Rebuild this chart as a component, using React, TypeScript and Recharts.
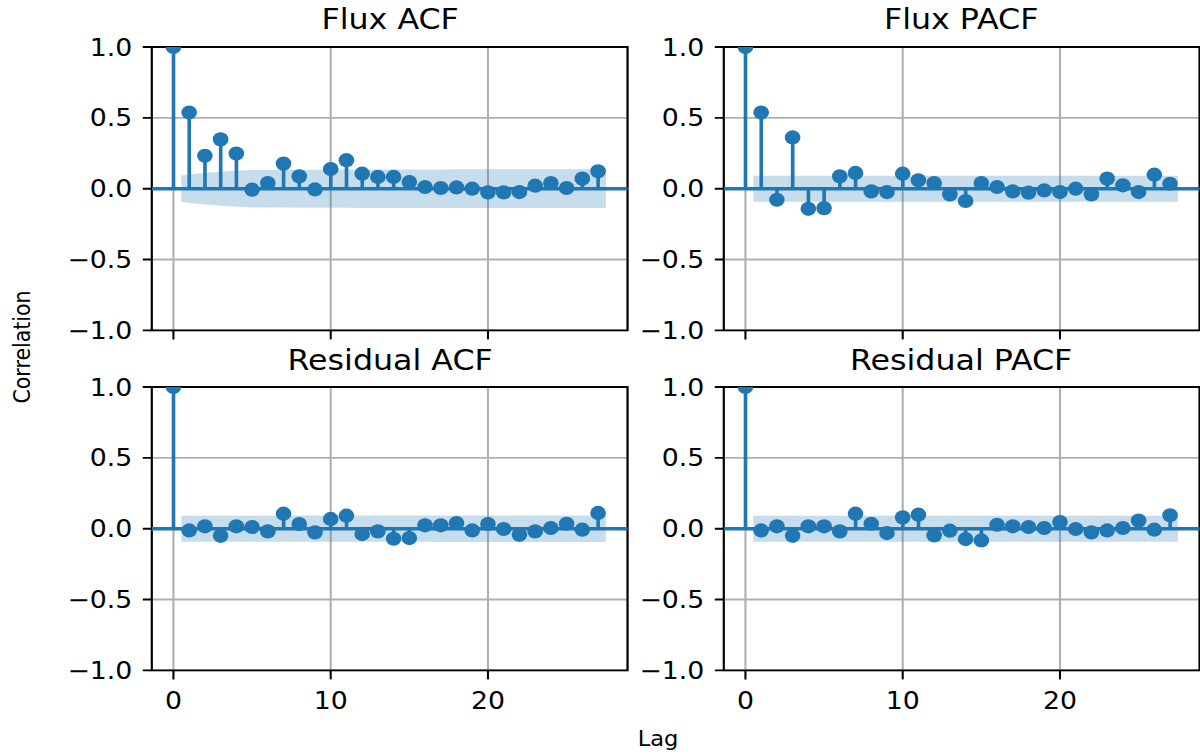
import { ComposedChart, XAxis, YAxis, CartesianGrid, Area, Bar, Scatter, ReferenceLine, ReferenceArea } from "recharts";

// lags drawn as stems
const LAGS = [0, 1, 2, 3, 4, 5, 6, 7, 8, 9, 10, 11, 12, 13, 14, 15, 16, 17, 18, 19, 20, 21, 22, 23, 24, 25, 26, 27];
// lags of the confidence band (first/last shifted by half a lag, like statsmodels)
const BAND_LAGS = [0.5, 2, 3, 4, 5, 6, 7, 8, 9, 10, 11, 12, 13, 14, 15, 16, 17, 18, 19, 20, 21, 22, 23, 24, 25, 26, 27.5];

const FLUX_ACF = [1.0, 0.537, 0.232, 0.348, 0.248, -0.007, 0.04, 0.177, 0.087, -0.005, 0.139, 0.201, 0.106, 0.083, 0.083, 0.047, 0.012, 0.005, 0.009, 0.0, -0.026, -0.026, -0.024, 0.021, 0.04, 0.005, 0.071, 0.123];
const FLUX_ACF_BAND = [0.094, 0.112, 0.12, 0.128, 0.132, 0.132, 0.133, 0.134, 0.134, 0.135, 0.135, 0.136, 0.136, 0.136, 0.136, 0.136, 0.136, 0.137, 0.137, 0.137, 0.137, 0.137, 0.137, 0.137, 0.137, 0.137, 0.137];

const FLUX_PACF = [1.0, 0.537, -0.078, 0.362, -0.142, -0.137, 0.087, 0.111, -0.019, -0.024, 0.106, 0.059, 0.04, -0.04, -0.087, 0.04, 0.012, -0.019, -0.028, -0.012, -0.024, 0.0, -0.04, 0.071, 0.024, -0.024, 0.099, 0.035];
const FLUX_PACF_BAND = [0.092, 0.092, 0.092, 0.092, 0.092, 0.092, 0.092, 0.092, 0.092, 0.092, 0.092, 0.092, 0.092, 0.092, 0.092, 0.092, 0.092, 0.092, 0.092, 0.092, 0.092, 0.092, 0.092, 0.092, 0.092, 0.092, 0.092];

const RESID_ACF = [1.0, -0.012, 0.017, -0.05, 0.017, 0.012, -0.019, 0.106, 0.033, -0.026, 0.069, 0.092, -0.038, -0.019, -0.071, -0.066, 0.024, 0.024, 0.04, -0.012, 0.033, -0.002, -0.043, -0.019, 0.005, 0.035, -0.007, 0.111];
const RESID_ACF_BAND = [0.092, 0.092, 0.092, 0.092, 0.092, 0.092, 0.093, 0.093, 0.093, 0.093, 0.093, 0.093, 0.093, 0.093, 0.093, 0.093, 0.094, 0.094, 0.094, 0.094, 0.094, 0.094, 0.094, 0.094, 0.094, 0.094, 0.094];

const RESID_PACF = [1.0, -0.012, 0.017, -0.05, 0.017, 0.017, -0.019, 0.106, 0.035, -0.031, 0.08, 0.099, -0.047, -0.014, -0.073, -0.083, 0.028, 0.017, 0.012, 0.005, 0.047, -0.002, -0.026, -0.012, 0.005, 0.057, -0.007, 0.095];
const RESID_PACF_BAND = [0.092, 0.092, 0.092, 0.092, 0.092, 0.092, 0.092, 0.092, 0.092, 0.092, 0.092, 0.092, 0.092, 0.092, 0.092, 0.092, 0.092, 0.092, 0.092, 0.092, 0.092, 0.092, 0.092, 0.092, 0.092, 0.092, 0.092];

const X_TICKS = [0, 10, 20];
const Y_TICKS = [-1, -0.5, 0, 0.5, 1];

const BLUE = "#1f77b4";
const FONT = "DejaVu Sans";
const SX = 1.1; // the reference is stretched a bit horizontally
const X_DOMAIN: [number, number] = [-1.375, 28.875];

const Y_W = 80;
const M_TOP = 47;
const X_H = 60;
const PLOT_W = 432.5;
const PLOT_H = 283.4;

type Row = { lag: number; v?: number; band?: [number, number] };

function buildRows(values: number[], band: number[]): Row[] {
  const map = new Map<number, Row>();
  LAGS.forEach((lag, i) => map.set(lag, { lag, v: values[i] }));
  BAND_LAGS.forEach((lag, i) => {
    const r = map.get(lag) ?? { lag };
    r.band = [-band[i], band[i]];
    map.set(lag, r);
  });
  return [...map.values()].sort((a, b) => a.lag - b.lag);
}

const fmtY = (v: number) => (v < 0 ? "\u2212" : "") + Math.abs(v).toFixed(1);

const Dot = (p: any) => <circle cx={p.cx} cy={p.cy} r={7.1} fill={BLUE} />;

function Panel({ left, top, values, band, showX }: { left: number; top: number; values: number[]; band: number[]; showX: boolean }) {
  const rows = buildRows(values, band);
  const points = rows.filter((r) => r.v !== undefined);
  const tickStyle = { fill: "#000", fontSize: 24.3, fontFamily: FONT };
  return (
    <div style={{ position: "absolute", left: left - Y_W, top: top - M_TOP }}>
      <ComposedChart width={Y_W + PLOT_W + 6} height={M_TOP + PLOT_H + X_H} data={rows} margin={{ top: M_TOP, right: 6, bottom: 0, left: 0 }}>
        <CartesianGrid stroke="#b0b0b0" strokeWidth={1.9} />
        <XAxis
          dataKey="lag"
          type="number"
          domain={X_DOMAIN}
          ticks={X_TICKS}
          allowDataOverflow
          height={X_H}
          axisLine={false}
          tickLine={{ stroke: "#000", strokeWidth: 1.9 }}
          tickSize={9}
          tickMargin={12}
          tick={tickStyle}
          tickFormatter={showX ? (v: number) => String(v) : () => ""}
        />
        <YAxis
          type="number"
          domain={[-1, 1]}
          ticks={Y_TICKS}
          allowDataOverflow
          width={Y_W}
          axisLine={false}
          tickLine={{ stroke: "#000", strokeWidth: 1.9 }}
          tickSize={8.2}
          tickMargin={9.5}
          tick={tickStyle}
          tickFormatter={fmtY}
        />
        <Area dataKey="band" type="linear" stroke="none" fill={BLUE} fillOpacity={0.25} connectNulls isAnimationActive={false} />
        <ReferenceLine y={0} stroke={BLUE} strokeWidth={3.4} />
        <Bar dataKey="v" fill={BLUE} barSize={3.3} isAnimationActive={false} />
        <Scatter data={points} dataKey="v" shape={Dot} isAnimationActive={false} />
        <ReferenceArea x1={X_DOMAIN[0]} x2={X_DOMAIN[1]} y1={-1} y2={1} fill="none" stroke="#000" strokeWidth={1.9} />
      </ComposedChart>
    </div>
  );
}

export default function App() {
  const L1 = 152.3 / SX;
  const L2 = 723.3 / SX;
  const T1 = 47;
  const T2 = 387.3;
  const c1 = L1 + PLOT_W / 2;
  const c2 = L2 + PLOT_W / 2;
  return (
    <div style={{ position: "absolute", left: 0, top: 0, width: 1200 / SX, height: 754, background: "#fff", transform: `scaleX(${SX})`, transformOrigin: "0 0" }}>
      <Panel left={L1} top={T1} values={FLUX_ACF} band={FLUX_ACF_BAND} showX={false} />
      <Panel left={L2} top={T1} values={FLUX_PACF} band={FLUX_PACF_BAND} showX={false} />
      <Panel left={L1} top={T2} values={RESID_ACF} band={RESID_ACF_BAND} showX />
      <Panel left={L2} top={T2} values={RESID_PACF} band={RESID_PACF_BAND} showX />
      <svg width={1200 / SX} height={754} style={{ position: "absolute", left: 0, top: 0, pointerEvents: "none" }}>
        <g fontFamily={FONT} fill="#000" textAnchor="middle">
          <text x={c1} y={29.3} fontSize={28.8}>Flux ACF</text>
          <text x={c2} y={29.3} fontSize={28.8}>Flux PACF</text>
          <text x={c1} y={369.6} fontSize={28.8}>Residual ACF</text>
          <text x={c2} y={369.6} fontSize={28.8}>Residual PACF</text>
          <text x={658 / SX} y={746} fontSize={20.5}>Lag</text>
          <text transform={`translate(${30 / SX},347) rotate(-90)`} fontSize={20.5}>Correlation</text>
        </g>
      </svg>
    </div>
  );
}
